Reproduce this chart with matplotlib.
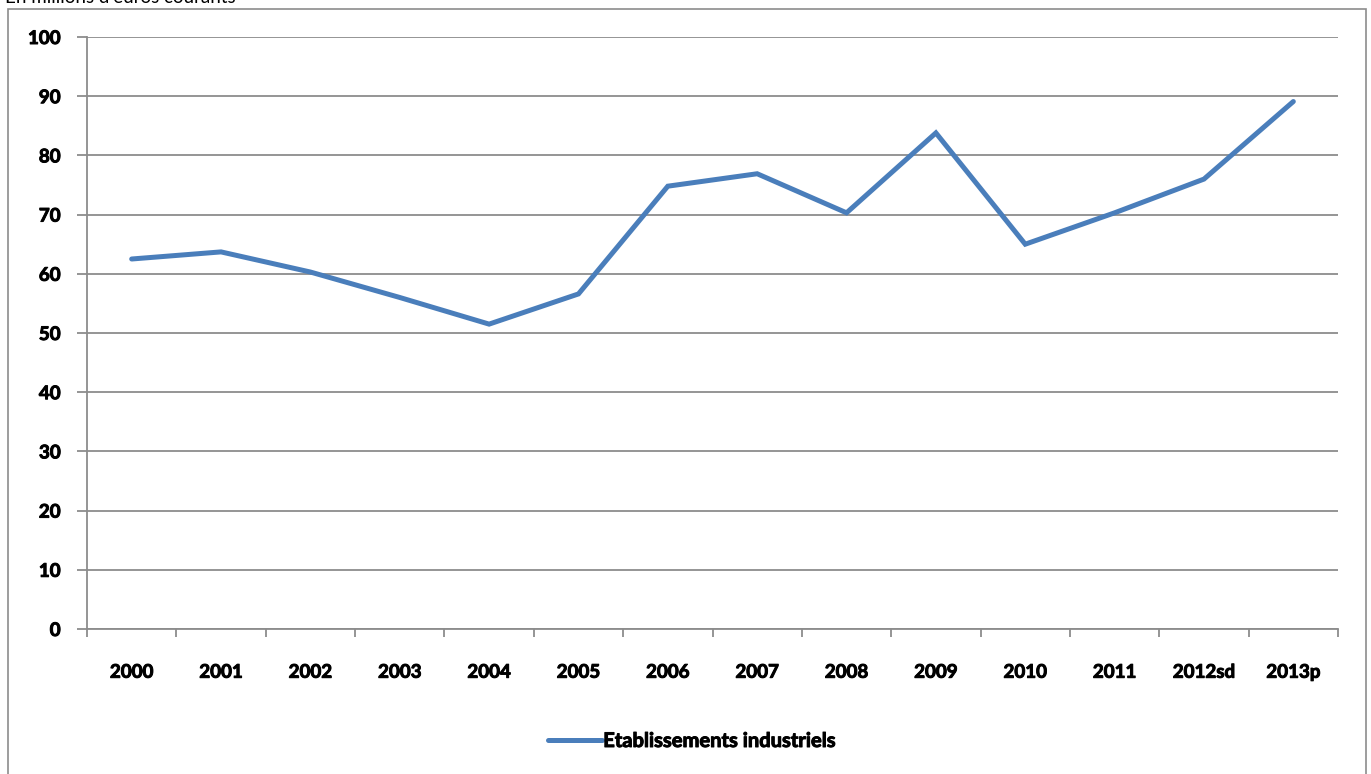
import matplotlib
matplotlib.use("Agg")
import matplotlib.pyplot as plt
import matplotlib.patheffects as pe
from matplotlib.patches import Rectangle
from matplotlib.ticker import FixedLocator

plt.rcParams['font.family'] = ['Lato', 'DejaVu Sans']

categories = ["2000", "2001", "2002", "2003", "2004", "2005", "2006",
              "2007", "2008", "2009", "2010", "2011", "2012sd", "2013p"]
values = [62.5, 63.7, 60.3, 56.0, 51.5, 56.6, 74.8,
          76.9, 70.3, 83.8, 65.0, 70.3, 76.0, 89.1]
series_name = "Etablissements industriels"
y_ticks = [0, 10, 20, 30, 40, 50, 60, 70, 80, 90, 100]

W, H = 1371, 774
fig = plt.figure(figsize=(W / 100, H / 100), dpi=100)
fig.patch.set_facecolor("white")

# outer chart frame
fig.add_artist(Rectangle((8 / W, -0.05), (1366 - 8) / W, 1.05 - 9 / H,
                         transform=fig.transFigure, fill=False,
                         edgecolor="#8c8c8c", linewidth=1.2))

# unit caption, partly above the top edge
fig.text(5 / W, 1 - 3 / H, "En millions d'euros courants", fontsize=13.5,
         ha="left", va="baseline", color="black")

# heavier strokes for the bold labels
heavy = [pe.withStroke(linewidth=0.7, foreground="black")]
label_font = {"size": 13.5, "weight": "bold"}

ax = fig.add_axes([87 / W, 1 - 629 / H, (1338 - 87) / W, (629 - 37) / H])
x = list(range(len(categories)))
ax.plot(x, values, color="#4A7EBB", linewidth=3.6, solid_capstyle="round",
        solid_joinstyle="miter", label=series_name, zorder=3)

ax.set_xlim(-0.5, len(categories) - 0.5)
ax.set_ylim(0, 100)
ax.set_yticks(y_ticks)
ax.set_yticklabels([str(v) for v in y_ticks], fontdict=label_font)
ax.yaxis.grid(True, color="#8c8c8c", linewidth=1.3)
ax.set_axisbelow(True)

ax.set_xticks(x)
ax.set_xticklabels(categories, fontdict=label_font)
ax.xaxis.set_minor_locator(FixedLocator([i - 0.5 for i in range(len(categories) + 1)]))
ax.tick_params(axis="x", which="major", length=0, pad=25)
ax.tick_params(axis="x", which="minor", length=6, width=1.3, color="#8c8c8c",
               direction="out")
ax.tick_params(axis="y", which="major", length=7, width=1.3, color="#8c8c8c",
               pad=12)
for lbl in ax.get_xticklabels() + ax.get_yticklabels():
    lbl.set_path_effects(heavy)

for side in ("top", "right"):
    ax.spines[side].set_visible(False)
for side in ("left", "bottom"):
    ax.spines[side].set_color("#8c8c8c")
    ax.spines[side].set_linewidth(1.3)

leg = fig.legend(loc="center", bbox_to_anchor=(692 / W, 1 - 741 / H),
                 frameon=False, handlelength=2.65, handletextpad=0.08,
                 prop={"size": 14.5, "weight": "bold"})
for t in leg.get_texts():
    t.set_path_effects(heavy)

fig.savefig("out.png", dpi=100)
